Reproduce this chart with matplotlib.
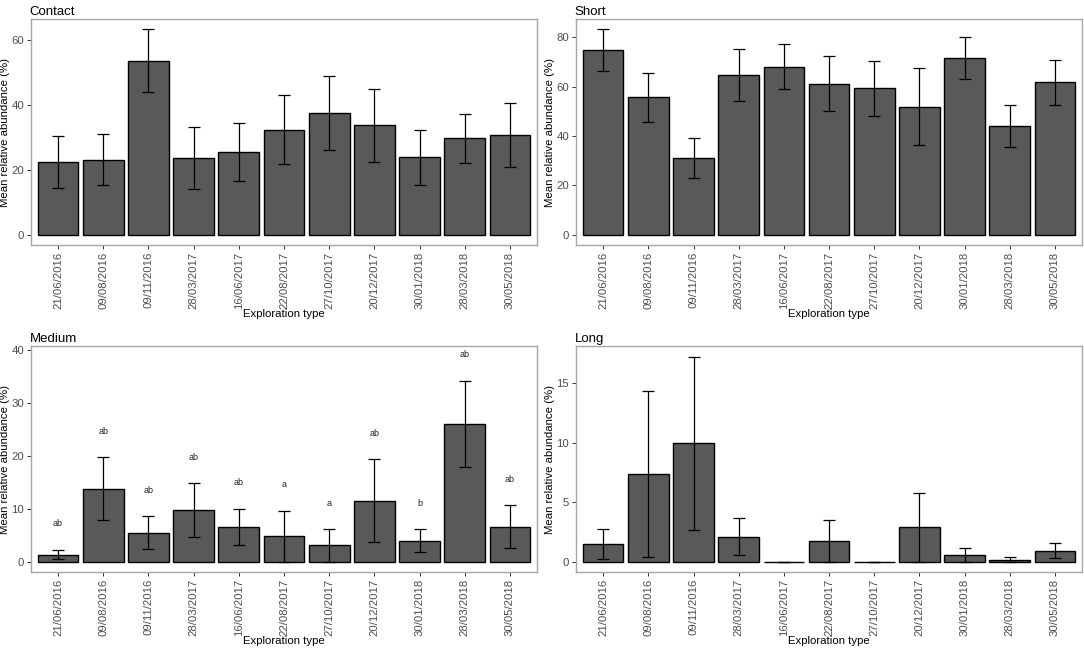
import numpy as np
import matplotlib
matplotlib.use('Agg')
from matplotlib import pyplot as plt

plt.rcParams['font.family'] = ['Liberation Sans', 'DejaVu Sans']

dates = ['21/06/2016', '09/08/2016', '09/11/2016', '28/03/2017', '16/06/2017', '22/08/2017',
         '27/10/2017', '20/12/2017', '30/01/2018', '28/03/2018', '30/05/2018']

contact_mean = [22.4, 23.1, 53.5, 23.5, 25.4, 32.2, 37.4, 33.7, 23.8, 29.7, 30.7]
contact_hi = [30.5, 31.0, 63.2, 33.1, 34.3, 43.0, 49.0, 44.9, 32.1, 37.2, 40.5]
contact_lo = [14.4, 15.2, 43.8, 13.9, 16.6, 21.6, 26.0, 22.4, 15.4, 22.2, 20.9]

short_mean = [74.7, 55.6, 30.9, 64.7, 67.9, 61.0, 59.3, 51.9, 71.5, 44.2, 61.7]
short_hi = [83.2, 65.6, 39.0, 75.1, 77.2, 72.4, 70.4, 67.6, 80.1, 52.7, 70.8]
short_lo = [66.3, 45.8, 23.1, 54.3, 58.9, 50.0, 48.1, 36.2, 63.0, 35.6, 52.6]

medium_mean = [1.45, 13.84, 5.56, 9.79, 6.70, 4.93, 3.22, 11.63, 4.11, 26.03, 6.70]
medium_hi = [2.34, 19.84, 8.66, 14.91, 10.11, 9.67, 6.32, 19.46, 6.26, 34.12, 10.74]
medium_lo = [0.57, 7.96, 2.46, 4.74, 3.29, 0.0, 0.0, 3.79, 2.02, 17.88, 2.72]
medium_letters = ['ab', 'ab', 'ab', 'ab', 'ab', 'a', 'a', 'ab', 'b', 'ab', 'ab']
medium_letter_y = [7.3, 24.7, 13.6, 19.8, 15.0, 14.6, 11.1, 24.3, 11.1, 39.1, 15.6]

long_mean = [1.47, 7.36, 9.94, 2.11, 0.0, 1.72, 0.0, 2.92, 0.61, 0.17, 0.94]
long_hi = [2.75, 14.33, 17.22, 3.69, 0.0, 3.47, 0.0, 5.75, 1.19, 0.36, 1.58]
long_lo = [0.22, 0.42, 2.69, 0.58, 0.0, 0.0, 0.0, 0.0, 0.0, 0.0, 0.31]

panels = [
    ('Contact', contact_mean, contact_lo, contact_hi, [0, 20, 40, 60], (-3.2, 66.4), [0.0286, 0.6225]),
    ('Short', short_mean, short_lo, short_hi, [0, 20, 40, 60, 80], (-4.2, 87.4), [0.5314, 0.6225]),
    ('Medium', medium_mean, medium_lo, medium_hi, [0, 10, 20, 30, 40], (-1.8, 40.7), [0.0286, 0.1186]),
    ('Long', long_mean, long_lo, long_hi, [0, 5, 10, 15], (-0.86, 18.1), [0.5314, 0.1186]),
]

fig = plt.figure(figsize=(10.84, 6.49), dpi=100)
x = np.arange(len(dates))

for title, mean, lo, hi, yticks, ylim, pos in panels:
    ax = fig.add_axes([pos[0], pos[1], 0.4668, 0.3482])
    mean = np.array(mean)
    err = [mean - np.array(lo), np.array(hi) - mean]
    ax.bar(x, mean, width=0.9, color='#595959', edgecolor='black', linewidth=1.0, zorder=2)
    ax.errorbar(x, mean, yerr=err, fmt='none', ecolor='black', elinewidth=0.9,
                capsize=4, capthick=0.9, zorder=3)
    if title == 'Medium':
        for xi, lab, ly in zip(x, medium_letters, medium_letter_y):
            ax.text(xi, ly, lab, ha='center', va='center', fontsize=6.5, color='#222222')
    ax.set_xlim(-0.6, len(dates) - 0.4)
    ax.set_ylim(*ylim)
    ax.set_yticks(yticks)
    ax.set_xticks(x)
    ax.set_xticklabels(dates, rotation=90)
    ax.tick_params(axis='both', colors='#333333', labelcolor='#4d4d4d', labelsize=8.2,
                   length=3, width=0.7, direction='out', pad=2)
    for s in ax.spines.values():
        s.set_color('#a6a6a6')
        s.set_linewidth(1.0)
    ax.set_xlabel('Exploration type', fontsize=8.2, labelpad=0)
    ax.set_ylabel('Mean relative abundance (%)', fontsize=8.2)
    ax.yaxis.set_label_coords(-0.041, 0.5)
    ax.set_title(title, loc='left', fontsize=9.5, pad=3, x=-0.003)

plt.savefig('out.png', dpi=100)
